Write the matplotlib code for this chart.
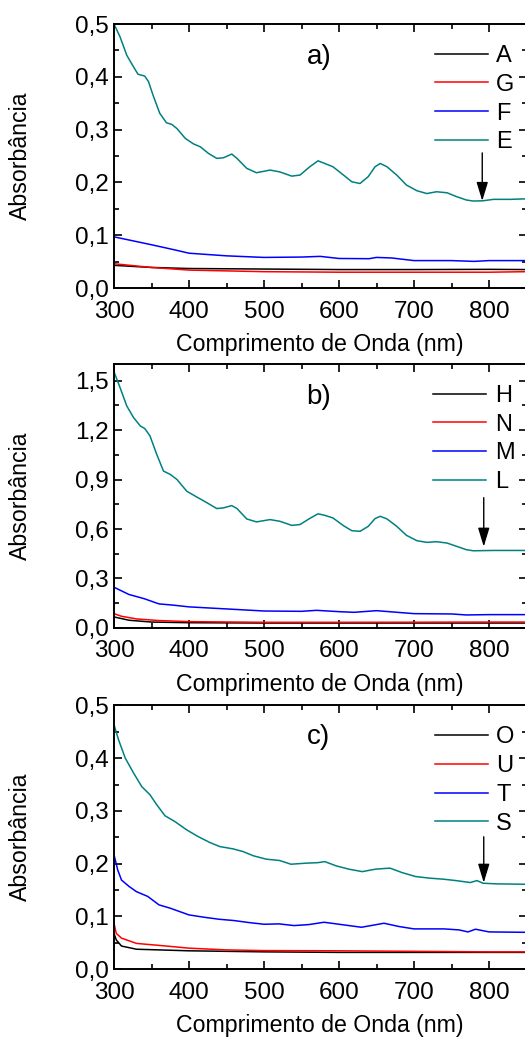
import matplotlib
matplotlib.use("Agg")
import matplotlib.pyplot as plt
from matplotlib.ticker import MultipleLocator, FuncFormatter

plt.rcParams['font.family'] = ['Liberation Sans', 'DejaVu Sans']

# ---------------- Panel a ----------------
a_E_x = [300, 308, 317, 326, 332, 341, 346, 352, 361, 370, 377, 384, 395, 406, 415, 426, 437, 446, 457, 464, 477, 490, 508, 521, 537, 548, 561, 572, 581, 592, 606, 617, 628, 639, 648, 655, 664, 677, 690, 704, 717, 730, 744, 757, 770, 779, 792, 806, 828, 850]
a_E_y = [0.500, 0.476, 0.441, 0.419, 0.405, 0.4015, 0.391, 0.3655, 0.331, 0.313, 0.310, 0.302, 0.2835, 0.273, 0.2676, 0.255, 0.2456, 0.2468, 0.2538, 0.2456, 0.2267, 0.2184, 0.2235, 0.220, 0.212, 0.214, 0.2297, 0.241, 0.236, 0.2297, 0.214, 0.2013, 0.198, 0.211, 0.2297, 0.236, 0.2297, 0.214, 0.195, 0.1843, 0.179, 0.1824, 0.1805, 0.173, 0.1667, 0.1648, 0.1653, 0.168, 0.168, 0.169]
a_F_x = [300, 350, 380, 400, 450, 500, 550, 575, 600, 640, 650, 670, 700, 750, 780, 800, 850]
a_F_y = [0.097, 0.082, 0.0726, 0.066, 0.061, 0.058, 0.0587, 0.060, 0.056, 0.0556, 0.058, 0.057, 0.052, 0.052, 0.0505, 0.052, 0.052]
a_A_x = [300, 350, 400, 500, 600, 700, 800, 850]
a_A_y = [0.043, 0.039, 0.037, 0.036, 0.035, 0.035, 0.0354, 0.035]
a_G_x = [300, 350, 400, 500, 600, 700, 800, 850]
a_G_y = [0.046, 0.039, 0.034, 0.031, 0.030, 0.030, 0.030, 0.031]

# ---------------- Panel b ----------------
b_L_x = [300, 308, 317, 326, 335, 341, 348, 357, 366, 375, 384, 397, 410, 424, 437, 446, 457, 464, 477, 490, 508, 521, 537, 548, 561, 572, 581, 592, 606, 617, 628, 639, 648, 655, 664, 677, 690, 704, 717, 730, 744, 757, 770, 779, 806, 850]
b_L_y = [1.553, 1.458, 1.346, 1.276, 1.225, 1.209, 1.164, 1.052, 0.951, 0.931, 0.900, 0.829, 0.795, 0.759, 0.724, 0.728, 0.742, 0.724, 0.661, 0.643, 0.657, 0.647, 0.622, 0.627, 0.664, 0.692, 0.683, 0.667, 0.620, 0.590, 0.586, 0.616, 0.663, 0.677, 0.661, 0.616, 0.5615, 0.529, 0.519, 0.523, 0.515, 0.4946, 0.4745, 0.468, 0.470, 0.470]
b_M_x = [300, 320, 340, 360, 380, 400, 450, 500, 550, 570, 600, 620, 650, 700, 750, 770, 800, 850]
b_M_y = [0.247, 0.203, 0.178, 0.146, 0.138, 0.128, 0.1155, 0.103, 0.101, 0.107, 0.099, 0.095, 0.105, 0.087, 0.085, 0.079, 0.081, 0.081]
b_H_x = [300, 320, 350, 400, 500, 600, 700, 800, 850]
b_H_y = [0.067, 0.047, 0.036, 0.032, 0.030, 0.030, 0.030, 0.030, 0.030]
b_N_x = [300, 310, 330, 360, 400, 500, 600, 700, 800, 850]
b_N_y = [0.087, 0.071, 0.055, 0.045, 0.0385, 0.0345, 0.0345, 0.035, 0.036, 0.036]

# ---------------- Panel c ----------------
c_S_x = [300, 306, 315, 326, 337, 348, 357, 368, 381, 397, 412, 428, 441, 459, 472, 486, 503, 521, 536, 556, 572, 581, 596, 613, 631, 649, 668, 684, 702, 721, 739, 756, 775, 784, 792, 810, 850]
c_S_y = [0.4635, 0.435, 0.400, 0.372, 0.346, 0.3306, 0.3116, 0.2908, 0.280, 0.264, 0.2515, 0.240, 0.2325, 0.228, 0.223, 0.2149, 0.2086, 0.206, 0.199, 0.201, 0.202, 0.204, 0.196, 0.1897, 0.185, 0.1897, 0.1916, 0.1832, 0.1757, 0.1726, 0.1707, 0.168, 0.1643, 0.168, 0.163, 0.1618, 0.161]
c_T_x = [300, 305, 310, 320, 330, 345, 360, 375, 400, 420, 440, 460, 480, 500, 520, 540, 560, 580, 600, 630, 645, 660, 680, 700, 740, 760, 772, 782, 800, 850]
c_T_y = [0.217, 0.188, 0.169, 0.157, 0.147, 0.138, 0.122, 0.1157, 0.103, 0.0986, 0.0948, 0.0923, 0.0885, 0.0853, 0.086, 0.0828, 0.0847, 0.0891, 0.0853, 0.0796, 0.0834, 0.0872, 0.081, 0.0765, 0.0765, 0.0746, 0.0708, 0.0759, 0.0708, 0.070]
c_U_x = [300, 303, 310, 330, 370, 400, 450, 500, 600, 700, 800, 850]
c_U_y = [0.087, 0.068, 0.059, 0.049, 0.044, 0.040, 0.0367, 0.0354, 0.035, 0.034, 0.033, 0.033]
c_O_x = [300, 303, 310, 330, 400, 500, 600, 700, 800, 850]
c_O_y = [0.068, 0.0556, 0.044, 0.038, 0.035, 0.033, 0.032, 0.032, 0.032, 0.032]

colors = ['#000000', '#ff0000', '#0000ff', '#008080']

panels = [
    dict(tag='a)', ylim=(0, 0.5), ymaj=0.1, ymin=0.05,
         series=[('A', a_A_x, a_A_y), ('G', a_G_x, a_G_y), ('F', a_F_x, a_F_y), ('E', a_E_x, a_E_y)],
         arrow=(791, 0.256, 0.165), tagy=0.4375, bottom=0.7225),
    dict(tag='b)', ylim=(0, 1.6), ymaj=0.3, ymin=0.15,
         series=[('H', b_H_x, b_H_y), ('N', b_N_x, b_N_y), ('M', b_M_x, b_M_y), ('L', b_L_x, b_L_y)],
         arrow=(793, 0.79, 0.493), tagy=1.40, bottom=0.395),
    dict(tag='c)', ylim=(0, 0.5), ymaj=0.1, ymin=0.05,
         series=[('O', c_O_x, c_O_y), ('U', c_U_x, c_U_y), ('T', c_T_x, c_T_y), ('S', c_S_x, c_S_y)],
         arrow=(793, 0.251, 0.164), tagy=0.44, bottom=0.0662),
]

fig = plt.figure(figsize=(5.25, 10.38), dpi=100)
fmt = FuncFormatter(lambda v, p: ('%.1f' % v).replace('.', ','))

for p in panels:
    ax = fig.add_axes([114 / 525, p['bottom'], 412.5 / 525, 0.2543])
    for (name, xs, ys), c in zip(p['series'], colors):
        ax.plot(xs, ys, color=c, lw=1.1, label=name)
    ax.set_xlim(300, 850)
    ax.set_ylim(*p['ylim'])
    ax.xaxis.set_major_locator(MultipleLocator(100))
    ax.xaxis.set_minor_locator(MultipleLocator(50))
    ax.yaxis.set_major_locator(MultipleLocator(p['ymaj']))
    ax.yaxis.set_minor_locator(MultipleLocator(p['ymin']))
    ax.yaxis.set_major_formatter(fmt)
    ax.tick_params(which='both', direction='in', top=True, right=True, width=1.2, labelsize=17.5)
    ax.tick_params(axis='x', which='major', pad=9)
    ax.tick_params(axis='y', which='major', pad=4)
    ax.tick_params(which='major', length=6)
    ax.tick_params(which='minor', length=3.5)
    for s in ax.spines.values():
        s.set_linewidth(1.4)
    ax.set_xlabel('Comprimento de Onda (nm)', fontsize=16.7, labelpad=7.5)
    ax.set_ylabel('Absorbância', fontsize=16.7)
    ax.yaxis.set_label_coords(-0.198, 0.5)
    ax.text(573, p['tagy'], p['tag'], fontsize=20, ha='center', va='center')
    ax.legend(loc='upper right', bbox_to_anchor=(1.005, 0.975), frameon=False, fontsize=17,
              handlelength=2.25, handletextpad=0.35, labelspacing=0.29, borderaxespad=0.2)
    ax_x, y0, y1 = p['arrow']
    ax.annotate('', xy=(ax_x, y1), xytext=(ax_x, y0),
                arrowprops=dict(arrowstyle='-|>,head_length=1.15,head_width=0.35',
                                mutation_scale=10, color='black', lw=1.0, shrinkA=0, shrinkB=0))

fig.savefig('out.png', dpi=100)
